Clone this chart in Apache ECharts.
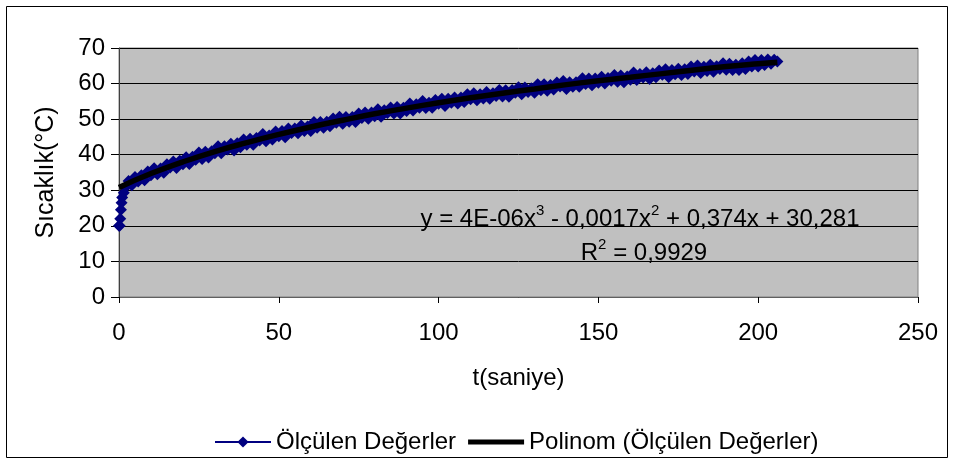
<!DOCTYPE html>
<html>
<head>
<meta charset="utf-8">
<script src="https://cdn.jsdelivr.net/npm/echarts@6/dist/echarts.min.js"></script>
<style>
html,body{margin:0;padding:0;background:#fff;}
#chart{width:955px;height:464px;}
</style>
</head>
<body>
<div id="chart"></div>
<script>
// Measured values (t in seconds, temperature in °C)
const tSec = [0, 0.2, 0.4, 0.6, 0.8, 1.0, 1.5,
  2, 3, 4, 5, 6, 7, 8, 9, 10, 11, 12, 13, 14, 15, 16, 17, 18, 19, 20,
  21, 22, 23, 24, 25, 26, 27, 28, 29, 30, 31, 32, 33, 34, 35, 36, 37, 38, 39, 40,
  41, 42, 43, 44, 45, 46, 47, 48, 49, 50, 51, 52, 53, 54, 55, 56, 57, 58, 59, 60,
  61, 62, 63, 64, 65, 66, 67, 68, 69, 70, 71, 72, 73, 74, 75, 76, 77, 78, 79, 80,
  81, 82, 83, 84, 85, 86, 87, 88, 89, 90, 91, 92, 93, 94, 95, 96, 97, 98, 99, 100,
  101, 102, 103, 104, 105, 106, 107, 108, 109, 110, 111, 112, 113, 114, 115, 116, 117, 118, 119, 120,
  121, 122, 123, 124, 125, 126, 127, 128, 129, 130, 131, 132, 133, 134, 135, 136, 137, 138, 139, 140,
  141, 142, 143, 144, 145, 146, 147, 148, 149, 150, 151, 152, 153, 154, 155, 156, 157, 158, 159, 160,
  161, 162, 163, 164, 165, 166, 167, 168, 169, 170, 171, 172, 173, 174, 175, 176, 177, 178, 179, 180,
  181, 182, 183, 184, 185, 186, 187, 188, 189, 190, 191, 192, 193, 194, 195, 196, 197, 198, 199, 200,
  201, 202, 203, 204, 205, 206];
const temp = [20, 20, 22, 24.5, 26.5, 28.0, 29.3,
  30.8, 32.6, 31.4, 33.7, 32.5, 34.2, 32.8, 35.3, 34.2, 36.2, 34.5, 36.1, 34.9, 37.3, 36.4, 38.1, 36.3, 38.3, 37.3,
  39.3, 37.4, 39.4, 38.6, 40.6, 38.8, 40.8, 39.2, 41.0, 40.4, 42.4, 40.4, 42.4, 41.5, 43.1, 41.2, 43.2, 42.1, 44.3, 42.8,
  44.5, 42.8, 44.7, 44.0, 45.8, 43.8, 45.4, 44.3, 46.5, 45.2, 46.7, 44.9, 47.4, 46.1, 47.4, 46.0, 48.2, 46.7, 47.9, 46.7,
  49.2, 47.6, 49.2, 47.6, 49.3, 48.0, 50.2, 49.0, 50.7, 48.7, 50.6, 49.3, 50.6, 49.2, 51.6, 50.3, 51.9, 50.1, 51.9, 50.8,
  52.8, 50.7, 52.5, 51.7, 53.3, 51.6, 53.4, 51.6, 53.2, 52.3, 54.4, 52.4, 54.2, 53.2, 55.1, 53.1, 54.6, 53.2, 55.4, 54.3,
  55.7, 53.7, 55.7, 54.6, 56.1, 54.4, 56.1, 54.8, 57.0, 55.6, 57.3, 55.3, 57.0, 55.8, 57.6, 55.7, 57.3, 56.5, 58.2, 56.4,
  58.1, 56.3, 58.2, 57.4, 59.0, 57.0, 58.9, 57.6, 58.7, 57.4, 59.8, 58.1, 59.8, 58.0, 59.6, 58.3, 60.3, 59.2, 60.7, 58.5,
  60.4, 59.1, 60.4, 59.1, 61.5, 59.9, 61.4, 59.5, 61.4, 60.2, 61.9, 60.0, 61.6, 60.8, 62.4, 60.5, 62.3, 60.4, 62.0, 61.1,
  63.1, 61.0, 62.7, 61.7, 63.2, 61.3, 62.9, 61.8, 63.7, 62.5, 64.0, 61.8, 63.8, 62.6, 64.2, 62.4, 64.0, 62.7, 64.8, 63.4,
  65.1, 63.0, 64.7, 63.5, 65.3, 63.3, 64.9, 64.1, 65.7, 63.9, 65.6, 63.8, 65.3, 63.8, 65.7, 64.1, 66.2, 64.8, 66.6, 64.8,
  66.6, 65.2, 66.8, 65.6, 66.7, 66.2];
// Polynomial trend line as drawn
const trendT = [0, 10, 20, 30, 40, 50, 60, 70, 80, 90, 100, 110, 120, 130, 140, 150, 160, 170, 180, 190, 200, 206];
const trendV = [30.8, 34.7, 38.0, 40.9, 43.4, 45.7, 47.8, 49.7, 51.5, 53.1, 54.6, 56.0, 57.3, 58.5, 59.7, 60.8, 61.8, 62.8, 63.8, 64.8, 65.6, 66.0];

const seriesNames = ['Ölçülen Değerler', 'Polinom (Ölçülen Değerler)'];
const xTitle = 't(saniye)';
const yTitle = 'Sıcaklık(°C)';

const FONT = "'Liberation Sans', Arial, sans-serif";
const FS = 24;

const chart = echarts.init(document.getElementById('chart'), null, {renderer: 'canvas'});
chart.setOption({
  animation: false,
  backgroundColor: '#ffffff',
  textStyle: {fontFamily: FONT, color: '#000'},
  grid: {
    left: 119, right: 37, top: 48, bottom: 167,
    show: true, backgroundColor: '#C0C0C0', borderColor: '#808080', borderWidth: 1
  },
  legend: {
    left: 209, top: 425,
    itemWidth: 56, itemHeight: 14, itemGap: 12,
    textStyle: {fontFamily: FONT, fontSize: FS, color: '#000'},
    data: [
      {name: seriesNames[0]},
      {name: seriesNames[1], icon: 'path://M0,0 H56 V5 H0 Z'}
    ]
  },
  xAxis: {
    type: 'value', min: 0, max: 250, interval: 50,
    name: xTitle, nameLocation: 'middle', nameGap: 69,
    nameTextStyle: {fontFamily: FONT, fontSize: FS, color: '#000'},
    axisLine: {show: true, onZero: false, lineStyle: {color: '#606060', width: 1}},
    axisTick: {show: true, inside: false, length: 6, lineStyle: {color: '#000'}},
    axisLabel: {fontFamily: FONT, fontSize: FS, color: '#000', margin: 24},
    splitLine: {show: false}
  },
  yAxis: {
    type: 'value', min: 0, max: 70, interval: 10,
    name: yTitle, nameLocation: 'middle', nameGap: 60, nameRotate: 90,
    nameTextStyle: {fontFamily: FONT, fontSize: 25, color: '#000'},
    axisLine: {show: true, lineStyle: {color: '#404040', width: 1}},
    axisTick: {show: true, inside: false, length: 8, lineStyle: {color: '#000'}},
    axisLabel: {fontFamily: FONT, fontSize: FS, color: '#000', margin: 14},
    splitLine: {show: true, lineStyle: {color: '#000', width: 1}}
  },
  series: [
    {
      name: seriesNames[0], type: 'line',
      data: tSec.map((t, i) => [t, temp[i]]),
      symbol: 'diamond', symbolSize: 12, showAllSymbol: true,
      lineStyle: {color: '#000080', width: 2},
      itemStyle: {color: '#000080'},
      z: 2
    },
    {
      name: seriesNames[1], type: 'line',
      data: trendT.map((t, i) => [t, trendV[i]]),
      smooth: true, showSymbol: false, symbol: 'none',
      lineStyle: {color: '#000000', width: 5.5},
      itemStyle: {color: '#000000'},
      z: 3
    }
  ],
  graphic: [
    {
      type: 'rect', silent: true, z: -10,
      shape: {x: 6.5, y: 6.5, width: 941, height: 451},
      style: {fill: null, stroke: '#000', lineWidth: 1}
    },
    {
      type: 'text', x: 640, y: 217, z: 100,
      style: {
        text: '{n|y = 4E-06x}{s|3}{n| - 0,0017x}{s|2}{n| + 0,374x + 30,281}',
        align: 'center', verticalAlign: 'middle',
        rich: {
          n: {fontFamily: FONT, fontSize: 24, fill: '#000', lineHeight: 28, verticalAlign: 'bottom'},
          s: {fontFamily: FONT, fontSize: 15, fill: '#000', lineHeight: 28, verticalAlign: 'top'}
        }
      }
    },
    {
      type: 'text', x: 644, y: 251, z: 100,
      style: {
        text: '{n|R}{s|2}{n| = 0,9929}',
        align: 'center', verticalAlign: 'middle',
        rich: {
          n: {fontFamily: FONT, fontSize: 24, fill: '#000', lineHeight: 28, verticalAlign: 'bottom'},
          s: {fontFamily: FONT, fontSize: 15, fill: '#000', lineHeight: 28, verticalAlign: 'top'}
        }
      }
    }
  ]
});
</script>
</body>
</html>
